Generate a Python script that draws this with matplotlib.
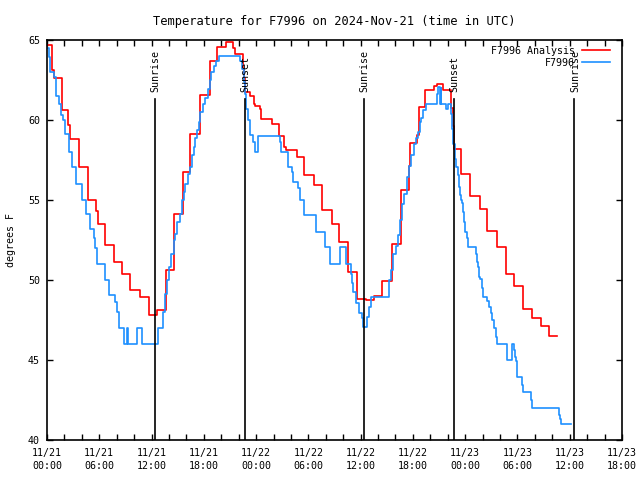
import numpy as np
import matplotlib
matplotlib.use('Agg')
import matplotlib.pyplot as plt

# hours since 2024-11-21 00:00 UTC, step values (held until next point)
anl_hr = [0.0, 0.55, 0.75, 1.72, 2.45, 2.6, 3.63, 4.66, 5.66, 5.81, 6.62, 7.65, 8.62, 9.57,
          10.64, 11.67, 12.64, 13.67, 14.54, 15.58, 16.46, 17.61, 18.68, 19.53, 20.6, 21.37,
          21.63, 22.47, 22.55, 22.65, 22.78, 23.27, 23.73, 23.93, 24.5, 24.62, 25.77, 26.6,
          27.18, 27.49, 28.64, 29.48, 30.59, 31.51, 32.69, 33.5, 34.53, 35.61, 36.56, 37.52,
          38.48, 39.63, 40.59, 41.54, 41.65, 42.42, 42.73, 43.34, 44.41, 44.72, 45.49, 46.33,
          46.6, 46.72, 47.5, 48.6, 49.66, 50.55, 51.62, 52.65, 53.6, 54.6, 55.67, 56.66,
          57.59, 58.59]
anl_val = [64.7, 63.1, 62.6, 60.6, 59.7, 58.8, 57.05, 55.0, 54.3, 53.5, 52.2, 51.1, 50.35, 49.4,
           48.95, 47.8, 48.1, 50.65, 54.15, 56.75, 59.1, 61.55, 63.7, 64.55, 64.9, 64.5,
           64.1, 63.8, 63.2, 62.6, 61.75, 61.5, 61.0, 60.85, 60.7, 60.05, 59.75, 59.0,
           58.3, 58.15, 57.7, 56.55, 55.95, 54.4, 53.5, 52.4, 50.5, 48.8, 48.72, 49.0,
           49.95, 52.25, 55.65, 57.1, 58.55, 59.05, 60.8, 61.9, 62.1, 62.25, 61.85, 60.75,
           59.65, 58.2, 56.65, 55.25, 54.45, 53.05, 52.05, 50.4, 49.6, 48.2, 47.6, 47.1,
           46.5, 46.5]

obs_hr = [0.0, 0.18, 0.38, 0.76, 1.07, 1.33, 1.61, 1.84, 2.1, 2.48, 2.87, 3.37, 4.02, 4.51,
          4.89, 5.35, 5.5, 5.74, 6.62, 7.08, 7.8, 8.0, 8.23, 8.8, 9.2, 9.35, 10.34, 10.91,
          12.75, 13.02, 13.28, 13.59, 13.79, 14.05, 14.28, 14.54, 14.74, 14.93, 15.23, 15.51,
          15.69, 15.89, 16.15, 16.38, 16.66, 16.84, 17.04, 17.23, 17.42, 17.61, 17.92, 18.18,
          18.45, 18.68, 18.87, 19.14, 19.37, 19.71, 22.21, 22.4, 22.58, 22.7, 22.86, 23.04,
          23.27, 23.67, 23.85, 24.24, 26.72, 26.88, 27.64, 28.15, 28.26, 28.83, 29.02, 29.48,
          30.82, 31.89, 32.54, 33.58, 34.27, 34.84, 34.96, 35.15, 35.42, 35.8, 36.19, 36.3,
          36.68, 36.94, 37.22, 39.24, 39.52, 39.75, 40.01, 40.28, 40.51, 40.78, 40.97, 41.36,
          41.54, 41.82, 42.11, 42.31, 42.57, 42.8, 42.96, 43.2, 43.46, 44.72, 44.87, 45.07,
          45.18, 45.26, 45.76, 46.02, 46.33, 46.52, 46.64, 46.83, 46.9, 47.17, 47.28, 47.4,
          47.56, 47.67, 47.79, 47.86, 47.97, 48.17, 48.32, 49.2, 49.32, 49.47, 49.58, 49.7,
          49.97, 50.09, 50.55, 50.73, 50.93, 51.12, 51.31, 51.5, 51.62, 52.77, 53.42, 53.6,
          53.68, 53.8, 53.91, 53.99, 54.57, 54.64, 55.6, 55.67, 58.77, 58.89, 59.05, 60.2]
obs_val = [64.5, 63.95, 63.0, 62.7, 61.5, 61.0, 60.3, 60.0, 59.15, 58.0, 57.05, 56.0, 55.0, 54.15,
           53.2, 52.6, 52.0, 51.0, 50.0, 49.05, 48.6, 48.0, 47.0, 46.0, 47.0, 46.0, 47.0, 46.0,
           47.0, 47.0, 48.0, 49.15, 50.0, 50.8, 51.65, 52.5, 52.9, 53.6, 54.15, 55.0,
           55.5, 56.0, 56.65, 57.05, 57.8, 58.3, 58.9, 59.35, 59.85, 60.5, 61.0, 61.4,
           61.95, 62.5, 63.0, 63.35, 63.7, 64.0, 63.7, 63.2, 62.35, 61.65, 60.7, 60.0,
           59.05, 58.6, 58.0, 59.0, 58.6, 58.0, 57.05, 56.75, 56.1, 55.75, 55.0, 54.05,
           53.0, 52.05, 51.0, 52.05, 51.0, 50.4, 49.8, 49.25, 48.55, 47.95, 47.6, 47.05,
           47.7, 48.3, 48.95, 50.0, 50.6, 51.65, 52.15, 52.8, 53.75, 54.75, 55.4, 56.45,
           57.15, 57.8, 58.5, 58.9, 59.25, 59.85, 60.15, 60.6, 61.0, 61.65, 62.05, 61.0,
           62.0, 61.0, 60.7, 61.0, 60.4, 59.45, 58.5, 57.55, 57.05, 56.55, 55.8, 55.3,
           55.0, 54.8, 54.25, 53.6, 53.0, 52.6, 52.05, 51.65, 51.15, 50.8, 50.2, 50.05,
           49.5, 48.95, 48.7, 48.3, 47.95, 47.5, 47.0, 46.45, 46.0, 45.0, 46.0, 45.6,
           45.2, 44.95, 44.5, 43.95, 43.45, 43.0, 42.5, 42.0, 41.55, 41.3, 41.0, 41.0]

sun_hr = [12.36, 22.7, 36.37, 46.7, 60.5]
sun_lbl = ['Sunrise', 'Sunset', 'Sunrise', 'Sunset', 'Sunrise']

tick_hr = np.arange(0, 67, 6)
tick_lbl = ['11/21\n00:00', '11/21\n06:00', '11/21\n12:00', '11/21\n18:00',
            '11/22\n00:00', '11/22\n06:00', '11/22\n12:00', '11/22\n18:00',
            '11/23\n00:00', '11/23\n06:00', '11/23\n12:00', '11/23\n18:00']

plt.rcParams['font.family'] = 'DejaVu Sans Mono'
plt.rcParams['font.size'] = 7.2

fig = plt.figure(figsize=(6.4, 4.8), dpi=100)
ax = fig.add_axes([47/640, 40/480, 575/640, 400/480])

ax.step(anl_hr, anl_val, where='post', color='#ff0000', lw=1.2, label='F7996 Analysis')
ax.step(obs_hr, obs_val, where='post', color='#1e90ff', lw=1.2, label='F7996')

for h, s in zip(sun_hr, sun_lbl):
    ax.plot([h, h], [40, 61.3], color='black', lw=1.2)
    ax.text(h + 0.1, 61.75, s, rotation=90, ha='center', va='bottom')

ax.set_xlim(0, 66)
ax.set_ylim(40, 65)
ax.set_xticks(tick_hr)
ax.set_xticklabels(tick_lbl, linespacing=1.3)
ax.set_xticks(np.arange(0, 67, 2), minor=True)
ax.set_yticks([40, 45, 50, 55, 60, 65])
ax.tick_params(which='both', direction='in', top=True, right=True, length=4, width=1)
ax.tick_params(axis='x', pad=6)
ax.tick_params(axis='y', pad=5)
for sp in ax.spines.values():
    sp.set_linewidth(1.2)

ax.set_ylabel('degrees F', labelpad=9)
ax.set_title('Temperature for F7996 on 2024-Nov-21 (time in UTC)', pad=11)

ax.legend(loc='upper right', bbox_to_anchor=(0.995, 1.008), markerfirst=False, frameon=False,
          handlelength=2.8, handletextpad=0.7, labelspacing=0.2, borderpad=0.4)

fig.savefig('out.png', dpi=100)
